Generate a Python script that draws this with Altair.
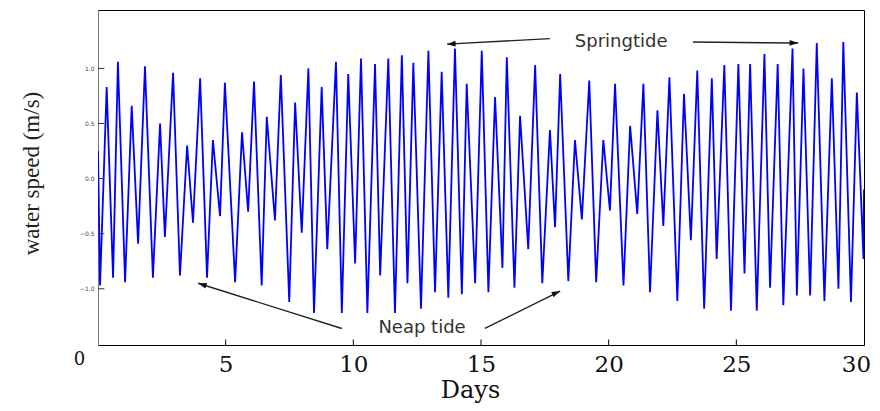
import altair as alt
import pandas as pd

# time (days) of each extreme of the tidal water speed
days = [0.00, 0.08, 0.34, 0.59, 0.78, 1.06, 1.32, 1.57, 1.84, 2.15,
        2.43, 2.62, 2.94, 3.21, 3.49, 3.72, 4.00, 4.27, 4.50, 4.78,
        4.97, 5.37, 5.64, 5.88, 6.11, 6.41, 6.61, 6.93, 7.16, 7.49,
        7.72, 7.98, 8.24, 8.46, 8.76, 8.98, 9.32, 9.55, 9.80, 10.07,
        10.30, 10.55, 10.85, 11.05, 11.37, 11.63, 11.90, 12.12, 12.35, 12.65,
        12.94, 13.20, 13.46, 13.72, 13.98, 14.25, 14.44, 14.77, 15.03, 15.29,
        15.55, 15.84, 16.01, 16.31, 16.53, 16.85, 17.12, 17.40, 17.70, 17.90,
        18.10, 18.42, 18.68, 18.95, 19.24, 19.51, 19.79, 20.05, 20.25, 20.58,
        20.84, 21.12, 21.36, 21.62, 21.91, 22.14, 22.38, 22.69, 22.95, 23.22,
        23.47, 23.74, 24.04, 24.23, 24.53, 24.79, 25.08, 25.32, 25.54, 25.80,
        26.10, 26.32, 26.62, 26.84, 27.20, 27.37, 27.63, 27.89, 28.15, 28.45,
        28.74, 29.00, 29.19, 29.49, 29.72, 29.98, 30.00]

# water speed (m/s) at those times
speed = [0.25, -0.97, 0.83, -0.90, 1.06, -0.94, 0.66, -0.59, 1.02, -0.90,
         0.50, -0.53, 0.96, -0.88, 0.30, -0.40, 0.91, -0.90, 0.35, -0.34,
         0.87, -0.94, 0.42, -0.30, 0.88, -0.97, 0.56, -0.38, 0.94, -1.12,
         0.69, -0.49, 1.00, -1.22, 0.83, -0.64, 1.06, -1.22, 0.95, -0.77,
         1.09, -1.22, 1.04, -0.88, 1.09, -1.22, 1.12, -0.95, 1.05, -1.18,
         1.16, -1.03, 0.97, -1.08, 1.18, -1.05, 0.86, -0.95, 1.16, -1.03,
         0.74, -0.81, 1.10, -0.99, 0.57, -0.64, 1.03, -0.95, 0.44, -0.44,
         0.95, -0.93, 0.35, -0.37, 0.89, -0.94, 0.35, -0.29, 0.86, -0.97,
         0.48, -0.32, 0.86, -1.03, 0.62, -0.43, 0.92, -1.11, 0.77, -0.56,
         0.98, -1.18, 0.91, -0.73, 1.03, -1.20, 1.04, -0.86, 1.04, -1.20,
         1.13, -0.99, 1.04, -1.15, 1.18, -1.06, 1.00, -1.06, 1.23, -1.11,
         0.91, -1.00, 1.24, -1.12, 0.78, -0.73, -0.10]

x_ticks = [0, 5, 10, 15, 20, 25, 30]
y_ticks = [-1, -0.5, 0, 0.5, 1]
x_inner_ticks = [5, 10, 15, 20, 25]

# annotations (data units)
label_text = ["Springtide", "Neap tide"]
label_day = [20.49, 12.69]
label_val = [1.24, -1.36]

arrow_day = [17.70, 23.30, 9.55, 15.15]
arrow_val = [1.27, 1.24, -1.36, -1.36]
arrow_day2 = [13.67, 27.42, 3.92, 18.10]
arrow_val2 = [1.22, 1.23, -0.95, -1.02]
arrow_dir = [267, 91, 287, 65]

Y_DOM = [-1.51, 1.53]
X_DOM = [0, 30]

df = pd.DataFrame({"day": days, "speed": speed})
df_lab = pd.DataFrame({"day": label_day, "speed": label_val, "text": label_text})
df_arr = pd.DataFrame({"day": arrow_day, "speed": arrow_val,
                       "day2": arrow_day2, "speed2": arrow_val2, "dir": arrow_dir})
df_head = pd.DataFrame({"day": arrow_day2, "speed": arrow_val2, "dir": arrow_dir})
df_xt = pd.DataFrame({"day": x_inner_ticks, "speed": [Y_DOM[0]] * len(x_inner_ticks),
                      "speed2": [Y_DOM[0] + 0.05] * len(x_inner_ticks)})
df_yt = pd.DataFrame({"speed": y_ticks, "day": [X_DOM[0]] * len(y_ticks),
                      "day2": [X_DOM[0] + 0.25] * len(y_ticks)})

xs = alt.Scale(domain=X_DOM, nice=False, zero=False)
ys = alt.Scale(domain=Y_DOM, nice=False, zero=False)

zero_test = "datum.value === 0"

X_AX = alt.Axis(values=x_ticks, title="Days", grid=False, ticks=False,
                domainColor="black", domainWidth=1.2,
                labelFont="DejaVu Serif",
                labelFontSize={"condition": {"test": zero_test, "value": 18}, "value": 23},
                labelOffset={"condition": [{"test": "datum.value === 0", "value": -19},
                                           {"test": "datum.value === 30", "value": -8}],
                             "value": 0},
                labelPadding={"condition": {"test": zero_test, "value": 5}, "value": 8},
                labelColor="#111", labelFlush=False,
                titleFont="DejaVu Serif", titleFontSize=24, titleFontWeight="normal",
                titleColor="#111", titleX=372, titleY=52, titleBaseline="alphabetic",
                titleAlign="center")
Y_AX = alt.Axis(values=y_ticks, title="water speed (m/s)", grid=False, ticks=False,
                domainColor="#777", labelFontSize=6, labelColor="#444",
                labelPadding=4, labelFont="DejaVu Sans",
                titleFont="Liberation Serif", titleFontSize=23,
                titleFontWeight="normal", titleColor="#222",
                titleX=-55, titleY=163, titleBaseline="bottom",
                titleAlign="center", titleAngle=270)

line = alt.Chart(df).mark_line(color="#0000ff", strokeWidth=1.8, clip=True).encode(
    x=alt.X("day:Q", scale=xs, axis=X_AX),
    y=alt.Y("speed:Q", scale=ys, axis=Y_AX),
)

xtick = alt.Chart(df_xt).mark_rule(color="black", strokeWidth=1).encode(
    x=alt.X("day:Q", scale=xs, axis=X_AX),
    y=alt.Y("speed:Q", scale=ys, axis=Y_AX),
    y2="speed2:Q",
)

ytick = alt.Chart(df_yt).mark_rule(color="#333", strokeWidth=1).encode(
    y=alt.Y("speed:Q", scale=ys, axis=Y_AX),
    x=alt.X("day:Q", scale=xs, axis=X_AX),
    x2="day2:Q",
)

arrows = alt.Chart(df_arr).mark_rule(color="#222", strokeWidth=1.4).encode(
    x=alt.X("day:Q", scale=xs, axis=X_AX),
    y=alt.Y("speed:Q", scale=ys, axis=Y_AX),
    x2="day2:Q",
    y2="speed2:Q",
)

heads = alt.Chart(df_head).mark_point(
    shape="M0,0 L-0.6,1.8 L0.6,1.8 Z", filled=True, color="#111", size=90, opacity=1
).encode(
    x=alt.X("day:Q", scale=xs, axis=X_AX),
    y=alt.Y("speed:Q", scale=ys, axis=Y_AX),
    angle=alt.Angle("dir:Q", scale=None),
)

labels = alt.Chart(df_lab).mark_text(
    font="DejaVu Sans", fontSize=18, color="#333", align="center", baseline="middle"
).encode(
    x=alt.X("day:Q", scale=xs, axis=X_AX),
    y=alt.Y("speed:Q", scale=ys, axis=Y_AX),
    text="text:N",
)

chart = alt.layer(line, xtick, ytick, arrows, heads, labels).properties(
    width=766, height=335,
    autosize=alt.AutoSizeParams(type="none"),
    padding={"left": 90, "top": 2, "right": 8, "bottom": 58},
).configure_view(stroke="black", strokeWidth=1).configure_axis(grid=False)

chart.save("out.html", embed_options={"renderer": "svg", "actions": False})
